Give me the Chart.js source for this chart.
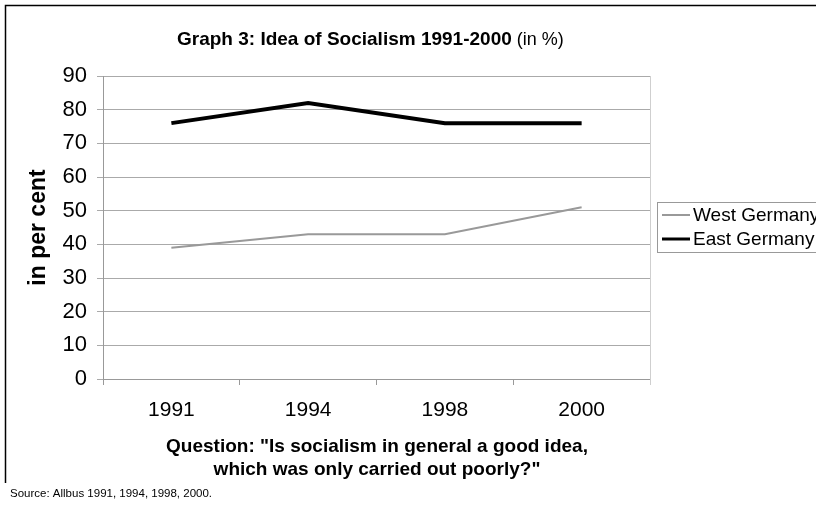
<!DOCTYPE html>
<html><head><meta charset="utf-8">
<script src="https://cdn.jsdelivr.net/npm/chart.js@4"></script>
<style>html,body{margin:0;padding:0;background:#fff}#c{display:block}</style>
</head><body>
<canvas id="c" width="816" height="505"></canvas>
<script>
const categories = ["1991", "1994", "1998", "2000"];
const westGermany = [39, 43, 43, 51];
const eastGermany = [76, 82, 76, 76];
const yTicks = [0, 10, 20, 30, 40, 50, 60, 70, 80, 90];
const seriesNames = ["West Germany", "East Germany"];

const FONT = "'Liberation Sans', Arial, sans-serif";

const decor = {
  id: 'decor',
  beforeDraw(chart) {
    const ctx = chart.ctx;
    ctx.save();
    ctx.fillStyle = '#fff';
    ctx.fillRect(0, 0, chart.width, chart.height);
    ctx.restore();
  },
  afterDraw(chart) {
    const ctx = chart.ctx, a = chart.chartArea;
    ctx.save();
    // frame
    ctx.strokeStyle = '#000'; ctx.lineWidth = 1.5;
    ctx.beginPath(); ctx.moveTo(5.5, 483); ctx.lineTo(5.5, 5.5); ctx.lineTo(816, 5.5); ctx.stroke();
    // plot right edge
    ctx.strokeStyle = '#cfcfcf'; ctx.lineWidth = 1;
    ctx.beginPath(); ctx.moveTo(Math.round(a.right) + 0.5, a.top); ctx.lineTo(Math.round(a.right) + 0.5, a.bottom + 6); ctx.stroke();
    // title
    ctx.fillStyle = '#000'; ctx.textBaseline = 'middle';
    const t1 = 'Graph 3: Idea of Socialism 1991-2000', t2 = ' (in %)';
    ctx.font = 'bold 19px ' + FONT; const w1 = ctx.measureText(t1).width;
    ctx.font = '18px ' + FONT; const w2 = ctx.measureText(t2).width;
    let x0 = 177;
    ctx.font = 'bold 19px ' + FONT; ctx.textAlign = 'left'; ctx.fillText(t1, x0, 40);
    ctx.font = '18px ' + FONT; ctx.fillText(t2, x0 + w1, 40);
    // y title
    ctx.save();
    ctx.translate(39, (a.top + a.bottom) / 2);
    ctx.rotate(-Math.PI / 2);
    ctx.font = 'bold 23px ' + FONT; ctx.textAlign = 'center';
    ctx.fillText('in per cent', 0, 0);
    ctx.restore();
    // x title
    ctx.font = 'bold 19px ' + FONT; ctx.textAlign = 'center';
    ctx.fillText('Question: "Is socialism in general a good idea,', 377, 447);
    ctx.fillText('which was only carried out poorly?"', 377, 470);
    // source
    ctx.font = '11.5px ' + FONT; ctx.textAlign = 'left';
    ctx.fillText('Source: Allbus 1991, 1994, 1998, 2000.', 10, 494);
    // legend
    ctx.strokeStyle = '#999'; ctx.lineWidth = 1;
    ctx.strokeRect(657.5, 202.5, 170, 50);
    const ds = chart.data.datasets;
    const ys = [215, 239];
    ds.forEach((d, i) => {
      ctx.strokeStyle = d.borderColor; ctx.lineWidth = i === 0 ? 2 : 3;
      ctx.beginPath(); ctx.moveTo(662, ys[i]); ctx.lineTo(690, ys[i]); ctx.stroke();
      ctx.fillStyle = '#000'; ctx.font = '19px ' + FONT; ctx.textAlign = 'left';
      ctx.fillText(d.label, 693, ys[i] + 1);
    });
    ctx.restore();
  }
};

new Chart(document.getElementById('c'), {
  type: 'line',
  data: {
    labels: categories,
    datasets: [
      { label: seriesNames[0], data: westGermany, borderColor: '#999999', borderWidth: 2, pointRadius: 0, tension: 0 },
      { label: seriesNames[1], data: eastGermany, borderColor: '#000', borderWidth: 4, pointRadius: 0, tension: 0 }
    ]
  },
  options: {
    responsive: false, animation: false,
    layout: { padding: { left: 0, right: 166, top: 76, bottom: 0 } },
    plugins: { legend: { display: false }, title: { display: false }, tooltip: { enabled: false } },
    scales: {
      x: {
        offset: true,
        grid: { offset: true, drawOnChartArea: false, drawTicks: true, tickLength: 6, color: '#999' },
        border: { color: '#999', width: 1 },
        ticks: { color: '#000', font: { family: FONT, size: 21 }, padding: 13, maxRotation: 0 },
        afterFit(s) { s.height = 126; }
      },
      y: {
        min: 0, max: 90,
        afterBuildTicks(s) { s.ticks = yTicks.map(v => ({ value: v })); },
        grid: { color: '#aaa', drawTicks: true, tickLength: 6 },
        border: { color: '#999', width: 1 },
        ticks: { color: '#000', font: { family: FONT, size: 22 }, padding: 10 },
        afterFit(s) { s.width = 103; }
      }
    }
  },
  plugins: [decor]
});
</script>
</body></html>
